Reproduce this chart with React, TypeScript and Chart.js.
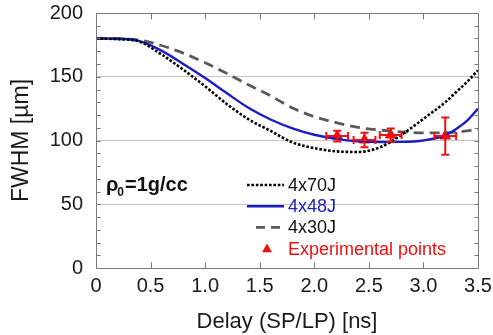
import React, { useEffect, useRef } from "react";
import { Chart, registerables } from "chart.js";

Chart.register(...registerables);

// ---- data ----
const delays = [0, 0.2, 0.4, 0.6, 0.8, 1.0, 1.2, 1.4, 1.6, 1.8, 2.0, 2.2, 2.4, 2.6, 2.8, 3.0, 3.2, 3.3, 3.4, 3.5];
const fwhm70J = [180, 179.5, 177.5, 167.5, 155.5, 142.5, 128.5, 116.5, 107.5, 98.5, 94, 91.5, 91, 94.6, 104.5, 117, 130, 138, 146, 155];
const fwhm48J = [180, 179.8, 178, 170.5, 160, 149, 137, 125.5, 116.5, 109.5, 104.5, 101.3, 99.4, 98.8, 98.9, 100, 104, 109, 115.5, 125];
const fwhm30J = [180, 179.8, 178.8, 174.5, 168.5, 161, 152.5, 143.5, 135, 125.5, 118.7, 114, 110.3, 108.2, 106.8, 106, 106.1, 106.6, 107.5, 109];

const expDelay = [2.21, 2.46, 2.7, 3.2];
const expFwhm = [103.5, 100.4, 104.3, 103.5];
const expDelayErr = [0.1, 0.1, 0.1, 0.1];
const expFwhmErr = [4.2, 5.7, 5.2, 14.6];

const xTickValues = [0, 0.5, 1, 1.5, 2, 2.5, 3, 3.5];
const yGridValues = [50, 100, 150];
const yMinorStep = 10;

const seriesLabels = ["4x70J", "4x48J", "4x30J", "Experimental points"];

// ---- styles ----
const FONT = "'Liberation Sans', Arial, Helvetica, sans-serif";
const RED = "#f01010";
const BLUE = "#1c1cc8";
const GRAY = "#5a5a5a";
const labelColors = ["#111111", "#2020c0", "#111111", RED];

const toPoints = (xs: number[], ys: number[]) => xs.map((x, i) => ({ x, y: ys[i] }));

const decorPlugin = {
  id: "decor",
  afterDraw(chart: any) {
    const ctx: CanvasRenderingContext2D = chart.ctx;
    const chartArea = chart.chartArea;
    const xs = chart.scales.x;
    const ys = chart.scales.y;
    const left = chartArea.left, right = chartArea.right, top = chartArea.top, bottom = chartArea.bottom;

    // error bars
    ctx.save();
    ctx.setLineDash([]);
    ctx.strokeStyle = RED;
    ctx.lineWidth = 2;
    const cap = 4;
    expDelay.forEach((d, i) => {
      const cx = xs.getPixelForValue(d);
      const cy = ys.getPixelForValue(expFwhm[i]);
      const x0 = xs.getPixelForValue(d - expDelayErr[i]);
      const x1 = xs.getPixelForValue(d + expDelayErr[i]);
      const y0 = ys.getPixelForValue(expFwhm[i] + expFwhmErr[i]);
      const y1 = ys.getPixelForValue(expFwhm[i] - expFwhmErr[i]);
      ctx.beginPath();
      ctx.moveTo(x0, cy); ctx.lineTo(x1, cy);
      ctx.moveTo(x0, cy - cap); ctx.lineTo(x0, cy + cap);
      ctx.moveTo(x1, cy - cap); ctx.lineTo(x1, cy + cap);
      ctx.moveTo(cx, y0); ctx.lineTo(cx, y1);
      ctx.moveTo(cx - cap, y0); ctx.lineTo(cx + cap, y0);
      ctx.moveTo(cx - cap, y1); ctx.lineTo(cx + cap, y1);
      ctx.stroke();
    });
    ctx.restore();

    // frame + inward ticks
    ctx.save();
    ctx.setLineDash([]);
    ctx.globalAlpha = 1;
    ctx.strokeStyle = "#7a7a7a";
    ctx.lineWidth = 1;
    const L = Math.round(left) + 0.5;
    const R = Math.round(right) + 0.5;
    const T = Math.round(top) + 0.5;
    const B = Math.round(bottom) + 0.5;
    ctx.beginPath();
    ctx.moveTo(L, T); ctx.lineTo(R, T); ctx.lineTo(R, B); ctx.lineTo(L, B); ctx.closePath();
    xTickValues.forEach((v) => {
      const px = Math.round(xs.getPixelForValue(v)) + 0.5;
      ctx.moveTo(px, B); ctx.lineTo(px, B - 6);
      ctx.moveTo(px, T); ctx.lineTo(px, T + 6);
    });
    for (let v = 0; v <= 200; v += yMinorStep) {
      const py = Math.round(ys.getPixelForValue(v)) + 0.5;
      ctx.moveTo(L, py); ctx.lineTo(L + 4, py);
      ctx.moveTo(R, py); ctx.lineTo(R - 4, py);
    }
    ctx.stroke();
    ctx.restore();

    // legend
    ctx.save();
    const lx = left + 151;
    const ly = top + 172;
    const rowH = 21.2;
    const sampleW = 37;
    ctx.font = `18px ${FONT}`;
    ctx.textBaseline = "middle";
    ctx.textAlign = "left";
    chart.data.datasets.forEach((ds: any, i: number) => {
      const y = ly + i * rowH;
      if (i < 3) {
        ctx.save();
        ctx.strokeStyle = ds.borderColor;
        ctx.lineWidth = ds.borderWidth;
        ctx.setLineDash(i === 2 ? [9, 6] : ds.borderDash || []);
        ctx.beginPath();
        ctx.moveTo(i === 2 ? lx + 9 : lx, y);
        ctx.lineTo(lx + sampleW, y);
        ctx.stroke();
        ctx.restore();
      } else {
        const cx = lx + 20;
        const r = 5;
        ctx.fillStyle = RED;
        ctx.beginPath();
        ctx.moveTo(cx, y - r);
        ctx.lineTo(cx + r, y + r * 0.75);
        ctx.lineTo(cx - r, y + r * 0.75);
        ctx.closePath();
        ctx.fill();
      }
      ctx.fillStyle = labelColors[i];
      ctx.fillText(ds.label, lx + sampleW + 4, y + 1);
    });
    ctx.restore();

    // rho label
    ctx.save();
    ctx.fillStyle = "#111111";
    ctx.textBaseline = "alphabetic";
    ctx.textAlign = "left";
    const rx = left + 10;
    const ry = top + 178;
    ctx.font = `bold 20px ${FONT}`;
    ctx.fillText("ρ", rx, ry);
    const w1 = ctx.measureText("ρ").width;
    ctx.font = `bold 12px ${FONT}`;
    ctx.fillText("0", rx + w1 - 1, ry + 5);
    const w2 = ctx.measureText("0").width;
    ctx.font = `bold 20px ${FONT}`;
    ctx.fillText("=1g/cc", rx + w1 + w2, ry);
    ctx.restore();
  },
};

export default function App() {
  const canvasRef = useRef<HTMLCanvasElement | null>(null);

  useEffect(() => {
    if (!canvasRef.current) return;
    const chart = new Chart(canvasRef.current, {
      type: "line",
      data: {
        datasets: [
          {
            label: seriesLabels[0],
            data: toPoints(delays, fwhm70J),
            borderColor: "#000000",
            borderWidth: 2.6,
            borderDash: [2.6, 1.8],
            pointRadius: 0,
            cubicInterpolationMode: "monotone",
            fill: false,
          },
          {
            label: seriesLabels[1],
            data: toPoints(delays, fwhm48J),
            borderColor: BLUE,
            borderWidth: 2.4,
            pointRadius: 0,
            cubicInterpolationMode: "monotone",
            fill: false,
          },
          {
            label: seriesLabels[2],
            data: toPoints(delays, fwhm30J),
            borderColor: GRAY,
            borderWidth: 2.8,
            borderDash: [10, 6],
            pointRadius: 0,
            cubicInterpolationMode: "monotone",
            fill: false,
          },
          {
            type: "scatter",
            label: seriesLabels[3],
            data: toPoints(expDelay, expFwhm),
            showLine: false,
            pointStyle: "triangle",
            pointRadius: 6,
            backgroundColor: RED,
            borderColor: RED,
            borderWidth: 1,
          } as any,
        ],
      },
      options: {
        animation: false,
        responsive: false,
        maintainAspectRatio: false,
        events: [],
        layout: { padding: { top: 13, right: 15, left: 0, bottom: 0 } },
        plugins: {
          legend: { display: false },
          tooltip: { enabled: false },
        },
        scales: {
          x: {
            type: "linear",
            min: 0,
            max: 3.5,
            afterFit: (s: any) => { s.height = 67; s.paddingLeft = 0; s.paddingRight = 0; },
            afterBuildTicks: (s: any) => { s.ticks = xTickValues.map((v) => ({ value: v })); },
            grid: { display: false, drawTicks: false },
            border: { display: false },
            ticks: {
              color: "#1a1a1a",
              font: { family: FONT, size: 20 },
              padding: 6,
              maxRotation: 0,
              autoSkip: false,
            },
            title: {
              display: true,
              text: "Delay (SP/LP) [ns]",
              color: "#1a1a1a",
              font: { family: FONT, size: 22 },
              padding: { top: 0, bottom: 0 },
            },
          },
          y: {
            type: "linear",
            min: 0,
            max: 200,
            afterFit: (s: any) => { s.width = 96; s.paddingTop = 0; s.paddingBottom = 0; },
            grid: {
              drawTicks: false,
              color: (c: any) => (yGridValues.includes(c.tick?.value) ? "#c4c4c4" : "rgba(0,0,0,0)"),
              lineWidth: 1,
            },
            border: { display: false },
            ticks: {
              stepSize: 50,
              color: "#1a1a1a",
              font: { family: FONT, size: 20 },
              padding: 13,
            },
            title: {
              display: true,
              text: "FWHM [µm]",
              color: "#1a1a1a",
              font: { family: FONT, size: 23 },
              padding: { top: 8, bottom: 0 },
            },
          },
        },
      },
      plugins: [decorPlugin],
    });
    return () => chart.destroy();
  }, []);

  return (
    <div style={{ position: "absolute", left: 0, top: 0, width: 493, height: 335, background: "#ffffff" }}>
      <canvas ref={canvasRef} width={493} height={335} style={{ display: "block" }} />
    </div>
  );
}
